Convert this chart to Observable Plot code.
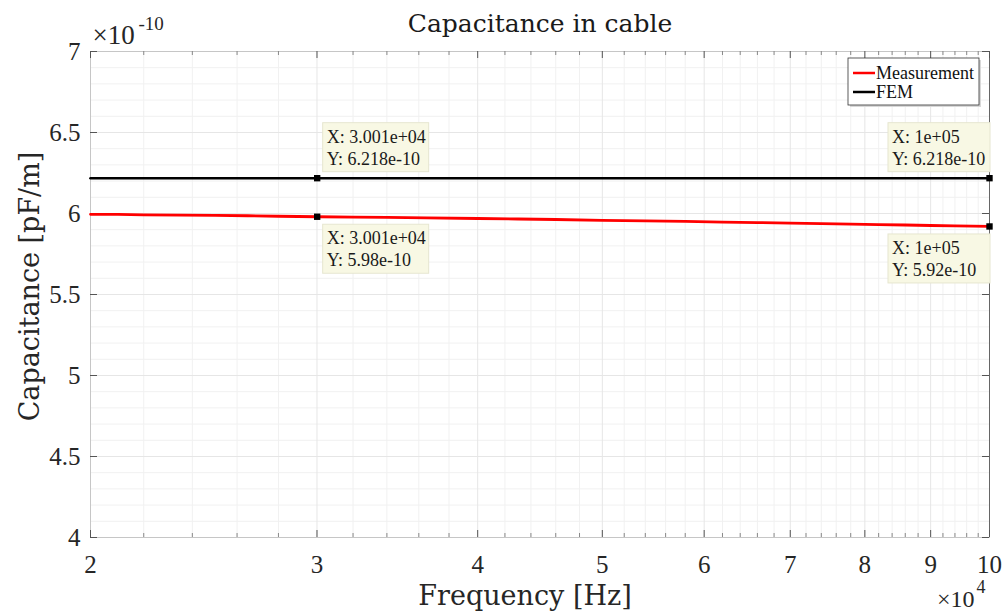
<!DOCTYPE html>
<html><head><meta charset="utf-8">
<script src="https://cdn.jsdelivr.net/npm/d3@7"></script>
<script src="https://cdn.jsdelivr.net/npm/@observablehq/plot@0.6"></script>
<style>body{margin:0;background:#fff} svg{display:block}</style>
</head><body><div id="chart"></div>
<script>
const title = "Capacitance in cable";
const xLabel = "Frequency [Hz]";
const yLabel = "Capacitance [pF/m]";
const seriesNames = ["Measurement", "FEM"];
const seriesColors = ["#ff0000", "#000000"];

// Frequency [Hz] and measured capacitance (×1e-10 F/m)
const freq = [20000, 21000, 22000, 23500, 25000, 26500, 28000, 30010, 32000, 34000, 36500, 40000, 43000, 46000, 50000, 54000, 58000, 62000, 66000, 70000, 74000, 78000, 82000, 86000, 90000, 94000, 97000, 100000];
const measurement = [5.995, 5.994, 5.992, 5.990, 5.988, 5.986, 5.983, 5.980, 5.978, 5.976, 5.973, 5.969, 5.966, 5.963, 5.958, 5.955, 5.951, 5.947, 5.944, 5.940, 5.937, 5.934, 5.931, 5.929, 5.926, 5.923, 5.922, 5.920];
const femFreq = [20000, 100000];
const femValue = [6.218, 6.218];

const xTicks = [20000, 30000, 40000, 50000, 60000, 70000, 80000, 90000, 100000];
const xMinor = [22000, 24000, 26000, 28000, 32000, 34000, 36000, 38000, 42000, 44000, 46000, 48000, 52000, 54000, 56000, 58000, 62000, 64000, 66000, 68000, 72000, 74000, 76000, 78000, 82000, 84000, 86000, 88000, 92000, 94000, 96000, 98000];
const yTicks = [4, 4.5, 5, 5.5, 6, 6.5, 7];
const yMinor = [4.1, 4.2, 4.3, 4.4, 4.6, 4.7, 4.8, 4.9, 5.1, 5.2, 5.3, 5.4, 5.6, 5.7, 5.8, 5.9, 6.1, 6.2, 6.3, 6.4, 6.6, 6.7, 6.8, 6.9];

// data tips
const tipX = [30010, 30010, 100000, 100000];
const tipY = [6.218, 5.980, 6.218, 5.920];
const tipLines = [["X: 3.001e+04", "Y: 6.218e-10"], ["X: 3.001e+04", "Y: 5.98e-10"], ["X: 1e+05", "Y: 6.218e-10"], ["X: 1e+05", "Y: 5.92e-10"]];
const tipPlace = ["above-right", "below-right", "above-left", "below-left"];

const meas = freq.map((f, i) => ({f, v: measurement[i]}));
const fem = femFreq.map((f, i) => ({f, v: femValue[i]}));
const tips = tipX.map((x, i) => ({x, y: tipY[i], lines: tipLines[i], place: tipPlace[i]}));

const serif = "'Liberation Serif', 'Times New Roman', serif";
const wide = "'DejaVu Serif', serif";

function tipBoxes(index, scales) {
  const g = d3.create("svg:g").attr("font-family", serif).attr("font-size", 18).attr("text-anchor", "start");
  for (const t of tips) {
    const px = scales.x(t.x), py = scales.y(t.y);
    const w = t.place.endsWith("right") ? 106 : 102, h = 49;
    const bx = t.place.endsWith("right") ? px + 6 : px - w + 1;
    const by = t.place.startsWith("above") ? py - 55 : py + 8;
    g.append("rect").attr("x", bx).attr("y", by).attr("width", w).attr("height", h)
      .attr("fill", "#f8f8e4").attr("stroke", "#e6e6d0").attr("stroke-width", 1);
    t.lines.forEach((s, j) => {
      g.append("text").attr("x", bx + 4).attr("y", by + 20 + j * 22).attr("text-anchor", "start").attr("fill", "#1a1a1a").text(s);
    });
  }
  return g.node();
}

function legend(index, scales, values, dims) {
  const right = dims.width - dims.marginRight - 10, top = dims.marginTop + 7;
  const w = 131, h = 47, left = right - w;
  const g = d3.create("svg:g").attr("font-family", serif).attr("font-size", 18).attr("text-anchor", "start");
  g.append("rect").attr("x", left + 2).attr("y", top + 2).attr("width", w).attr("height", h).attr("fill", "#d8d8d8");
  g.append("rect").attr("x", left).attr("y", top).attr("width", w).attr("height", h)
    .attr("fill", "#fff").attr("stroke", "#333").attr("stroke-width", 0.8);
  seriesNames.forEach((n, i) => {
    const yy = top + 15 + i * 19;
    g.append("line").attr("x1", left + 5).attr("x2", left + 27).attr("y1", yy).attr("y2", yy)
      .attr("stroke", seriesColors[i]).attr("stroke-width", 2.5);
    g.append("text").attr("x", left + 28).attr("y", yy + 6).attr("text-anchor", "start").attr("fill", "#111").text(n);
  });
  return g.node();
}

const chart = Plot.plot({
  width: 1007, height: 614,
  marginLeft: 90, marginRight: 18, marginTop: 51, marginBottom: 77,
  style: {fontFamily: serif, background: "#fff", color: "#262626"},
  x: {type: "log", domain: [20000, 100000]},
  y: {domain: [4, 7]},
  marks: [
    Plot.ruleX(xMinor, {stroke: "#f1f1f1"}),
    Plot.ruleY(yMinor, {stroke: "#f1f1f1"}),
    Plot.ruleX(xTicks, {stroke: "#e6e6e6"}),
    Plot.ruleY(yTicks, {stroke: "#e6e6e6"}),
    Plot.frame({stroke: "#c6c6c6"}),
    Plot.ruleX([100000], {stroke: "#666"}),
    Plot.ruleX(xTicks, {stroke: "#555", insetTop: 479}),
    Plot.ruleX(xTicks, {stroke: "#555", insetBottom: 479}),
    Plot.ruleX(xMinor, {stroke: "#888", insetTop: 482}),
    Plot.ruleX(xMinor, {stroke: "#888", insetBottom: 482}),
    Plot.ruleY(yTicks, {stroke: "#555", insetRight: 892}),
    Plot.ruleY(yTicks, {stroke: "#555", insetLeft: 892}),
    Plot.line(fem, {x: "f", y: "v", stroke: seriesColors[1], strokeWidth: 2.6}),
    Plot.line(meas, {x: "f", y: "v", stroke: seriesColors[0], strokeWidth: 2.8}),
    tipBoxes,
    Plot.dot(tips, {x: "x", y: "y", symbol: "square", fill: "#000", r: 3.6}),
    legend,
    Plot.axisX(xTicks, {anchor: "bottom", tickSize: 0, tickPadding: 18, tickFormat: d => String(d / 10000), fontSize: 25, label: null}),
    Plot.axisY(yTicks, {anchor: "left", tickSize: 0, tickPadding: 10, tickFormat: d => String(d), fontSize: 25, label: null}),
    Plot.text([title], {text: d => d, frameAnchor: "top", dy: -28, fontSize: 25, fontFamily: wide, lineAnchor: "middle", fill: "#1a1a1a"}),
    Plot.text([xLabel], {text: d => d, frameAnchor: "bottom", dx: -15, dy: 59, fontSize: 27, fontFamily: wide, lineAnchor: "middle", fill: "#262626"}),
    Plot.text([yLabel], {text: d => d, frameAnchor: "left", dx: -60, dy: -8, rotate: -90, textAnchor: "middle", fontSize: 27, fontFamily: wide, lineAnchor: "middle", fill: "#262626"}),
    Plot.text(["×10"], {text: d => d, frameAnchor: "top-left", dx: 2, dy: -16, textAnchor: "start", lineAnchor: "middle", fontSize: 27, fill: "#262626"}),
    Plot.text(["-10"], {text: d => d, frameAnchor: "top-left", dx: 48, dy: -28, textAnchor: "start", lineAnchor: "middle", fontSize: 19, fill: "#262626"}),
    Plot.text(["×10"], {text: d => d, frameAnchor: "bottom-right", dx: -15, dy: 62, textAnchor: "end", lineAnchor: "middle", fontSize: 24, fill: "#262626"}),
    Plot.text(["4"], {text: d => d, frameAnchor: "bottom-right", dx: -4, dy: 50, textAnchor: "end", lineAnchor: "middle", fontSize: 18, fill: "#262626"})
  ]
});
document.getElementById("chart").appendChild(chart);
</script>
</body></html>
